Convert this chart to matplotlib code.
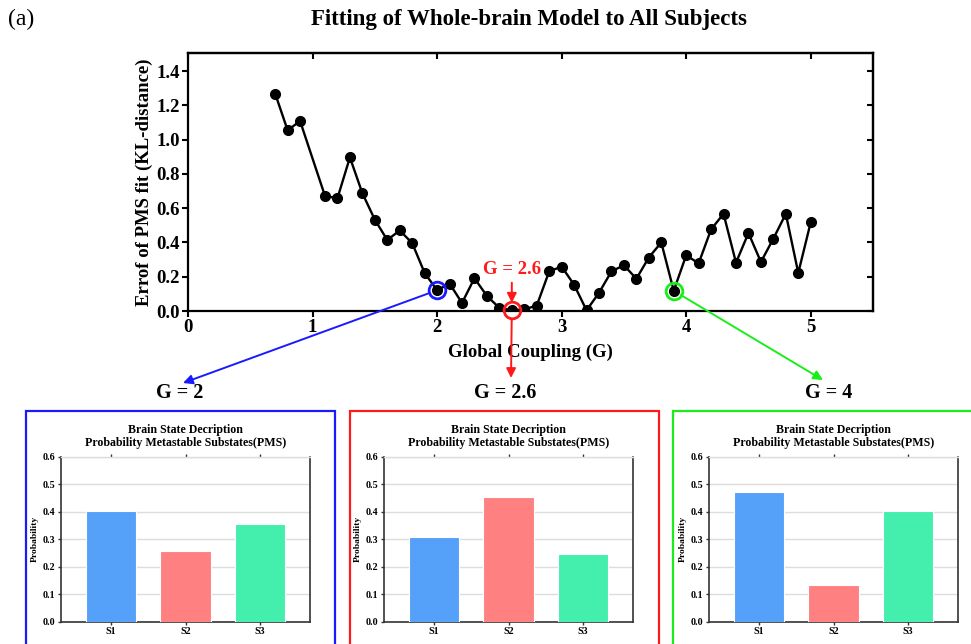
import matplotlib
matplotlib.use("Agg")
import matplotlib.pyplot as plt
from matplotlib.patches import ConnectionPatch, Rectangle

plt.rcParams['font.family'] = ['Liberation Serif', 'DejaVu Serif']

# Fitting error of the whole-brain model for each global coupling value
coupling = [0.7, 0.8, 0.9, 1.1, 1.2, 1.3, 1.4, 1.5, 1.6, 1.7, 1.8, 1.9, 2.0,
            2.1, 2.2, 2.3, 2.4, 2.5, 2.6, 2.7, 2.8, 2.9, 3.0, 3.1, 3.2, 3.3,
            3.4, 3.5, 3.6, 3.7, 3.8, 3.9, 4.0, 4.1, 4.2, 4.3, 4.4, 4.5, 4.6,
            4.7, 4.8, 4.9, 5.0]
kl_error = [1.268, 1.054, 1.108, 0.671, 0.658, 0.896, 0.687, 0.533, 0.414,
            0.470, 0.396, 0.222, 0.121, 0.160, 0.047, 0.191, 0.088, 0.018,
            0.004, 0.010, 0.031, 0.231, 0.259, 0.153, 0.004, 0.106, 0.231,
            0.267, 0.188, 0.312, 0.400, 0.118, 0.325, 0.278, 0.476, 0.567,
            0.282, 0.455, 0.286, 0.422, 0.567, 0.222, 0.518]

# Substate probabilities for the three highlighted couplings
states = ['S1', 'S2', 'S3']
pms_g2 = [0.404, 0.256, 0.354]
pms_g26 = [0.307, 0.455, 0.248]
pms_g4 = [0.473, 0.135, 0.404]

highlight_g = [2.0, 2.6, 3.9]
highlight_err = [0.121, 0.004, 0.118]
panel_labels = ['G = 2', 'G = 2.6', 'G = 4']
panel_colors = ['#1a1aff', '#ff1a1a', '#1aee1a']
bar_colors = ['#55a0f8', '#ff8080', '#44eeac']

W, H = 971, 644
fig = plt.figure(figsize=(W / 100, H / 100), dpi=100)


def fx(px):
    return px / W


def fy(py):
    return 1 - py / H


# ---- main fitting curve ----
ax = fig.add_axes([fx(188), fy(311), fx(873 - 188), (311 - 53) / H])
ax.plot(coupling, kl_error, color='black', lw=1.7, marker='o', ms=7,
        zorder=3)
ax.set_xlim(0, 5.5)
ax.set_ylim(0, 1.505)
ax.set_xticks([0, 1, 2, 3, 4, 5])
ax.set_yticks([0.0, 0.2, 0.4, 0.6, 0.8, 1.0, 1.2, 1.4])
ax.set_yticklabels([f'{v:.1f}' for v in ax.get_yticks()])
for lab in ax.get_xticklabels() + ax.get_yticklabels():
    lab.set_fontweight('bold')
    lab.set_fontsize(13.5)
ax.tick_params(axis='both', which='both', direction='out', length=4,
               width=1.5, pad=2)
secx = ax.secondary_xaxis('top')
secx.set_xticks([0, 1, 2, 3, 4, 5])
secx.tick_params(direction='in', length=4, width=1.5, labeltop=False)
secy = ax.secondary_yaxis('right')
secy.set_yticks([0.0, 0.2, 0.4, 0.6, 0.8, 1.0, 1.2, 1.4])
secy.tick_params(direction='in', length=4, width=1.5, labelright=False)
for a in (ax, secx, secy):
    for s in a.spines.values():
        s.set_linewidth(1.6)
ax.set_xlabel('Global Coupling (G)', fontsize=13.5, fontweight='bold',
              labelpad=5)
ax.set_ylabel('Errof of PMS fit (KL-distance)', fontsize=13.5,
              fontweight='bold', labelpad=2)

# highlighted coupling values
for g, e, c in zip(highlight_g, highlight_err, panel_colors):
    ax.plot([g], [e], marker='o', ms=12, mfc='none', mec=c, mew=2,
            zorder=4, clip_on=False)

ax.text(2.6, 0.245, 'G = 2.6', color='#ff1a1a', fontsize=13.5,
        fontweight='bold', ha='center', va='center')
ax.annotate('', xy=(2.6, 0.048), xytext=(2.6, 0.165),
            arrowprops=dict(arrowstyle='-|>', color='#ff1a1a', lw=1.4,
                            mutation_scale=14, shrinkA=0, shrinkB=0))

# connectors from the curve to the panels
targets = [(183, 383), (511, 378), (823, 380)]
for g, e, c, (tx, ty) in zip(highlight_g, highlight_err, panel_colors,
                             targets):
    con = ConnectionPatch(xyA=(g, e), coordsA=ax.transData,
                          xyB=(fx(tx), fy(ty)), coordsB=fig.transFigure,
                          arrowstyle='-|>', color=c, lw=1.4,
                          mutation_scale=14, shrinkA=6, shrinkB=0,
                          zorder=5)
    fig.add_artist(con)

# ---- titles ----
fig.text(fx(529), fy(19), 'Fitting of Whole-brain Model to All Subjects',
         fontsize=16.5, fontweight='bold', ha='center', va='center')
fig.text(fx(8), fy(19), '(a)', fontsize=17, ha='left', va='center')

# ---- probability panels ----
boxes = [(26, 335), (350, 659), (673, 975)]
axes_x = [(61, 310), (384, 633), (709, 958)]
label_x = [180, 505, 829]
values = [pms_g2, pms_g26, pms_g4]

for (bx0, bx1), (ax0, ax1), lx, vals, c, lbl in zip(
        boxes, axes_x, label_x, values, panel_colors, panel_labels):
    fig.add_artist(Rectangle((fx(bx0), fy(648)), fx(bx1 - bx0),
                             (648 - 411) / H, transform=fig.transFigure,
                             fill=False, edgecolor=c, lw=1.6))
    fig.text(fx(lx), fy(393), lbl, fontsize=14.5, fontweight='bold',
             ha='center', va='center')

    pa = fig.add_axes([fx(ax0), fy(621.7), fx(ax1 - ax0), 165 / H])
    pos = range(len(states))
    pa.bar(pos, vals, width=0.68, color=bar_colors, edgecolor='white',
           lw=0.8, zorder=3)
    pa.set_xlim(-0.67, 2.67)
    pa.set_ylim(0, 0.6)
    pa.set_yticks([0.0, 0.1, 0.2, 0.3, 0.4, 0.5, 0.6])
    pa.set_yticklabels([f'{v:.1f}' for v in pa.get_yticks()])
    pa.set_xticks(list(pos))
    pa.set_xticklabels(states)
    for lab in pa.get_xticklabels() + pa.get_yticklabels():
        lab.set_fontweight('bold')
        lab.set_fontsize(7.2)
    pa.grid(axis='y', color='#dddddd', lw=1, zorder=0)
    pa.tick_params(axis='both', length=2, width=1, pad=2, color='#333333',
                   top=True, direction='out')
    for side in ('left', 'bottom', 'right'):
        pa.spines[side].set_color('#333333')
        pa.spines[side].set_linewidth(1.2)
    pa.spines['top'].set_color('#dddddd')
    pa.spines['top'].set_linewidth(1)
    pa.set_ylabel('Probability', fontsize=6.8, fontweight='bold',
                  labelpad=3)
    pa.set_title('Brain State Decription\nProbability Metastable '
                 'Substates(PMS)', fontsize=8.6, fontweight='bold', pad=8,
                 linespacing=1.05)

fig.savefig('out.png', dpi=100)
